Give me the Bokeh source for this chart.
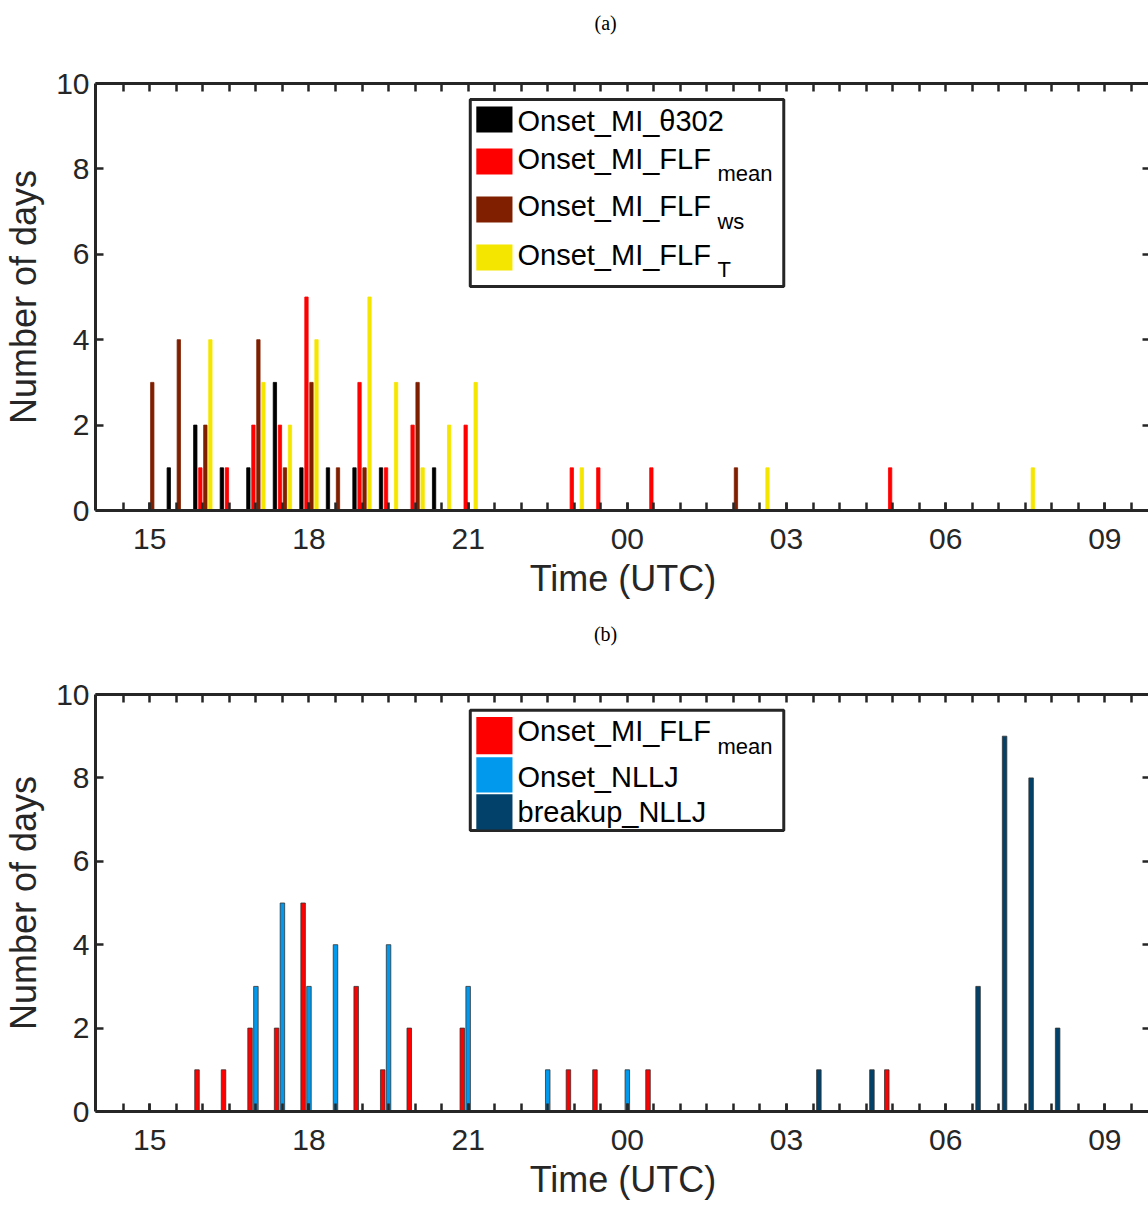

# Onset / breakup histogram, two stacked panels
from bokeh.plotting import figure
from bokeh.layouts import column
from bokeh.models import FixedTicker, LinearAxis, Range1d
from bokeh.core.properties import value
from bokeh.embed import file_html
from bokeh.resources import INLINE

# ====
# DATA
# ====

# Half-hour bins, hours after 00 UTC of day 1 (24+ = next day)
times = [15.0, 15.5, 16.0, 16.5, 17.0, 17.5, 18.0, 18.5, 19.0, 19.5, 20.0, 20.5,
         21.0, 21.5, 22.0, 22.5, 23.0, 23.5, 24.0, 24.5, 25.0, 25.5, 26.0, 26.5,
         27.0, 27.5, 28.0, 28.5, 29.0, 29.5, 30.0, 30.5, 31.0, 31.5, 32.0]

onset_theta302 = [0, 1, 2, 1, 1, 3, 1, 1, 1, 1, 0, 1, 0, 0, 0, 0, 0, 0,
                  0, 0, 0, 0, 0, 0, 0, 0, 0, 0, 0, 0, 0, 0, 0, 0, 0]
onset_flf_mean = [0, 0, 1, 1, 2, 2, 5, 0, 3, 1, 2, 0, 2, 0, 0, 0, 1, 1,
                  0, 1, 0, 0, 0, 0, 0, 0, 0, 0, 1, 0, 0, 0, 0, 0, 0]
onset_flf_ws = [3, 4, 2, 0, 4, 1, 3, 1, 1, 0, 3, 0, 0, 0, 0, 0, 0, 0,
                0, 0, 0, 0, 1, 0, 0, 0, 0, 0, 0, 0, 0, 0, 0, 0, 0]
onset_flf_t = [0, 0, 4, 0, 3, 2, 4, 0, 5, 3, 1, 2, 3, 0, 0, 0, 1, 0,
               0, 0, 0, 0, 0, 1, 0, 0, 0, 0, 0, 0, 0, 0, 0, 1, 0]
onset_nllj = [0, 0, 0, 0, 3, 5, 3, 4, 0, 4, 0, 0, 3, 0, 0, 1, 0, 0,
              1, 0, 0, 0, 0, 0, 0, 0, 0, 0, 0, 0, 0, 0, 0, 0, 0]
breakup_nllj = [0, 0, 0, 0, 0, 0, 0, 0, 0, 0, 0, 0, 0, 0, 0, 0, 0, 0,
                0, 0, 0, 0, 0, 0, 0, 1, 0, 1, 0, 0, 0, 3, 9, 8, 2]

major_ticks = [15, 18, 21, 24, 27, 30, 33]
major_labels = ['15', '18', '21', '00', '03', '06', '09']
half_ticks = [14.5 + 0.5 * i for i in range(40)]

# ========
# SETTINGS
# ========

SANS = 'Liberation Sans'
AXC = '#262626'
X0, X1 = 13.977, 33.86
FRAME_L, FRAME_R = 98, 1148
PXH = (FRAME_R - FRAME_L) / (X1 - X0)


def style(ax):
    '''Matlab-like inward ticks'''
    ax.axis_line_width = 3
    ax.axis_line_color = AXC
    for kind in ('major', 'minor'):
        setattr(ax, kind + '_tick_line_color', AXC)
        setattr(ax, kind + '_tick_line_width', 2.5)
        setattr(ax, kind + '_tick_in', 8)
        setattr(ax, kind + '_tick_out', 0)
    ax.major_label_text_font = SANS
    ax.major_label_text_font_size = '30px'
    ax.major_label_text_color = AXC
    ax.axis_label_text_font = SANS
    ax.axis_label_text_font_size = '36px'
    ax.axis_label_text_font_style = 'normal'
    ax.axis_label_text_color = AXC


def make_heading(label, ypos):
    '''Thin strip holding the panel letter'''
    h = figure(width=1150, height=40, output_backend='svg', toolbar_location=None,
               x_range=Range1d(0, 1150), y_range=Range1d(0, 40),
               min_border=0, x_axis_location=None, y_axis_location=None)
    h.grid.visible = False
    h.outline_line_color = None
    h.text(x=[556], y=[ypos], text=[label], text_font=value('Liberation Serif'),
           text_font_size='20px', text_align='center', text_baseline='middle')
    return h


def make_panel(height, btop, bbottom):
    '''Empty panel with box axes'''
    p = figure(width=1150, height=height, output_backend='svg', toolbar_location=None,
               x_range=Range1d(X0, X1), y_range=Range1d(0, 10),
               min_border_left=93, min_border_right=0,
               min_border_top=btop, min_border_bottom=bbottom,
               x_axis_label='Time (UTC)', y_axis_label='Number of days')
    p.grid.visible = False
    p.outline_line_color = None
    p.border_fill_color = None

    for ax in p.xaxis:
        style(ax)
        ax.ticker = FixedTicker(ticks=major_ticks, minor_ticks=half_ticks)
        ax.major_label_overrides = dict(zip(major_ticks, major_labels))
        ax.major_label_standoff = 18
        ax.axis_label_standoff = 6
    for ax in p.yaxis:
        style(ax)
        ax.ticker = FixedTicker(ticks=[0, 2, 4, 6, 8, 10])
        ax.major_label_standoff = 6
        ax.axis_label_standoff = 9

    top = LinearAxis(ticker=FixedTicker(ticks=[], minor_ticks=half_ticks))
    style(top)
    p.add_layout(top, 'above')
    right = LinearAxis(ticker=FixedTicker(ticks=[], minor_ticks=[0, 2, 4, 6, 8, 10]))
    style(right)
    p.add_layout(right, 'right')
    return p


def add_bars(p, counts, offset, width, color, line):
    '''Draw one series, skipping empty bins'''
    x = [t + offset for t, c in zip(times, counts) if c > 0]
    y = [c for c in counts if c > 0]
    p.vbar(x=x, top=y, width=width, fill_color=color,
           line_color=line, line_width=0.8)


def add_legend(p, y_top, ppu, box, rows):
    '''Hand drawn legend, px positions converted to data units'''
    def dx(px):
        return X0 + (px - FRAME_L) / PXH

    def dy(py):
        return (y_top - py) / ppu

    l, t, r, b = box
    p.quad(left=dx(l), right=dx(r), top=dy(t), bottom=dy(b),
           fill_color='white', line_color=AXC, line_width=3)
    for color, st, sb, parts in rows:
        p.quad(left=dx(477), right=dx(513), top=dy(st), bottom=dy(sb),
               fill_color=color, line_color=None)
        for text, px, py, size in parts:
            p.text(x=[dx(px)], y=[dy(py)], text=[text], text_font=value(SANS),
                   text_font_size=size, text_baseline='middle', text_color='black')

# ======
# PANELS
# ======

ha = make_heading('(a)', 18)
pa = make_panel(578, 43, 108)
add_bars(pa, onset_theta302, -0.142, 0.063, 'black', 'black')
add_bars(pa, onset_flf_mean, -0.047, 0.063, '#ff0000', '#ff0000')
add_bars(pa, onset_flf_ws, 0.047, 0.063, '#7f1f00', '#7f1f00')
add_bars(pa, onset_flf_t, 0.142, 0.063, '#f5e600', '#f5e600')
add_legend(pa, 510, 42.7, (471, 99, 783, 286), [
    ('black', 106, 132, [('Onset_MI_θ302', 518, 120, '29px')]),
    ('#ff0000', 148, 174, [('Onset_MI_FLF', 518, 158, '29px'),
                           ('mean', 717, 173, '22px')]),
    ('#7f1f00', 196, 222, [('Onset_MI_FLF', 518, 205, '29px'),
                           ('ws', 717, 221, '22px')]),
    ('#f5e600', 244, 270, [('Onset_MI_FLF', 518, 254, '29px'),
                           ('T', 717, 269, '22px')]),
])

hb = make_heading('(b)', 25)
pb = make_panel(544, 36, 82)
add_bars(pb, onset_flf_mean, -0.11, 0.085, '#ff0000', '#333333')
add_bars(pb, onset_nllj, 0.0, 0.085, '#0099ee', '#333333')
add_bars(pb, breakup_nllj, 0.11, 0.085, '#01416a', '#333333')
add_legend(pb, 1120, 42.6, (471, 710, 783, 833), [
    ('#ff0000', 717, 755, [('Onset_MI_FLF', 518, 731, '29px'),
                           ('mean', 717, 747, '22px')]),
    ('#0099ee', 758, 794, [('Onset_NLLJ', 518, 778, '29px')]),
    ('#01416a', 796, 832, [('breakup_NLLJ', 518, 814, '29px')]),
])

layout = column(ha, pa, hb, pb, spacing=0)
open('out.html', 'w').write(file_html(layout, INLINE))
